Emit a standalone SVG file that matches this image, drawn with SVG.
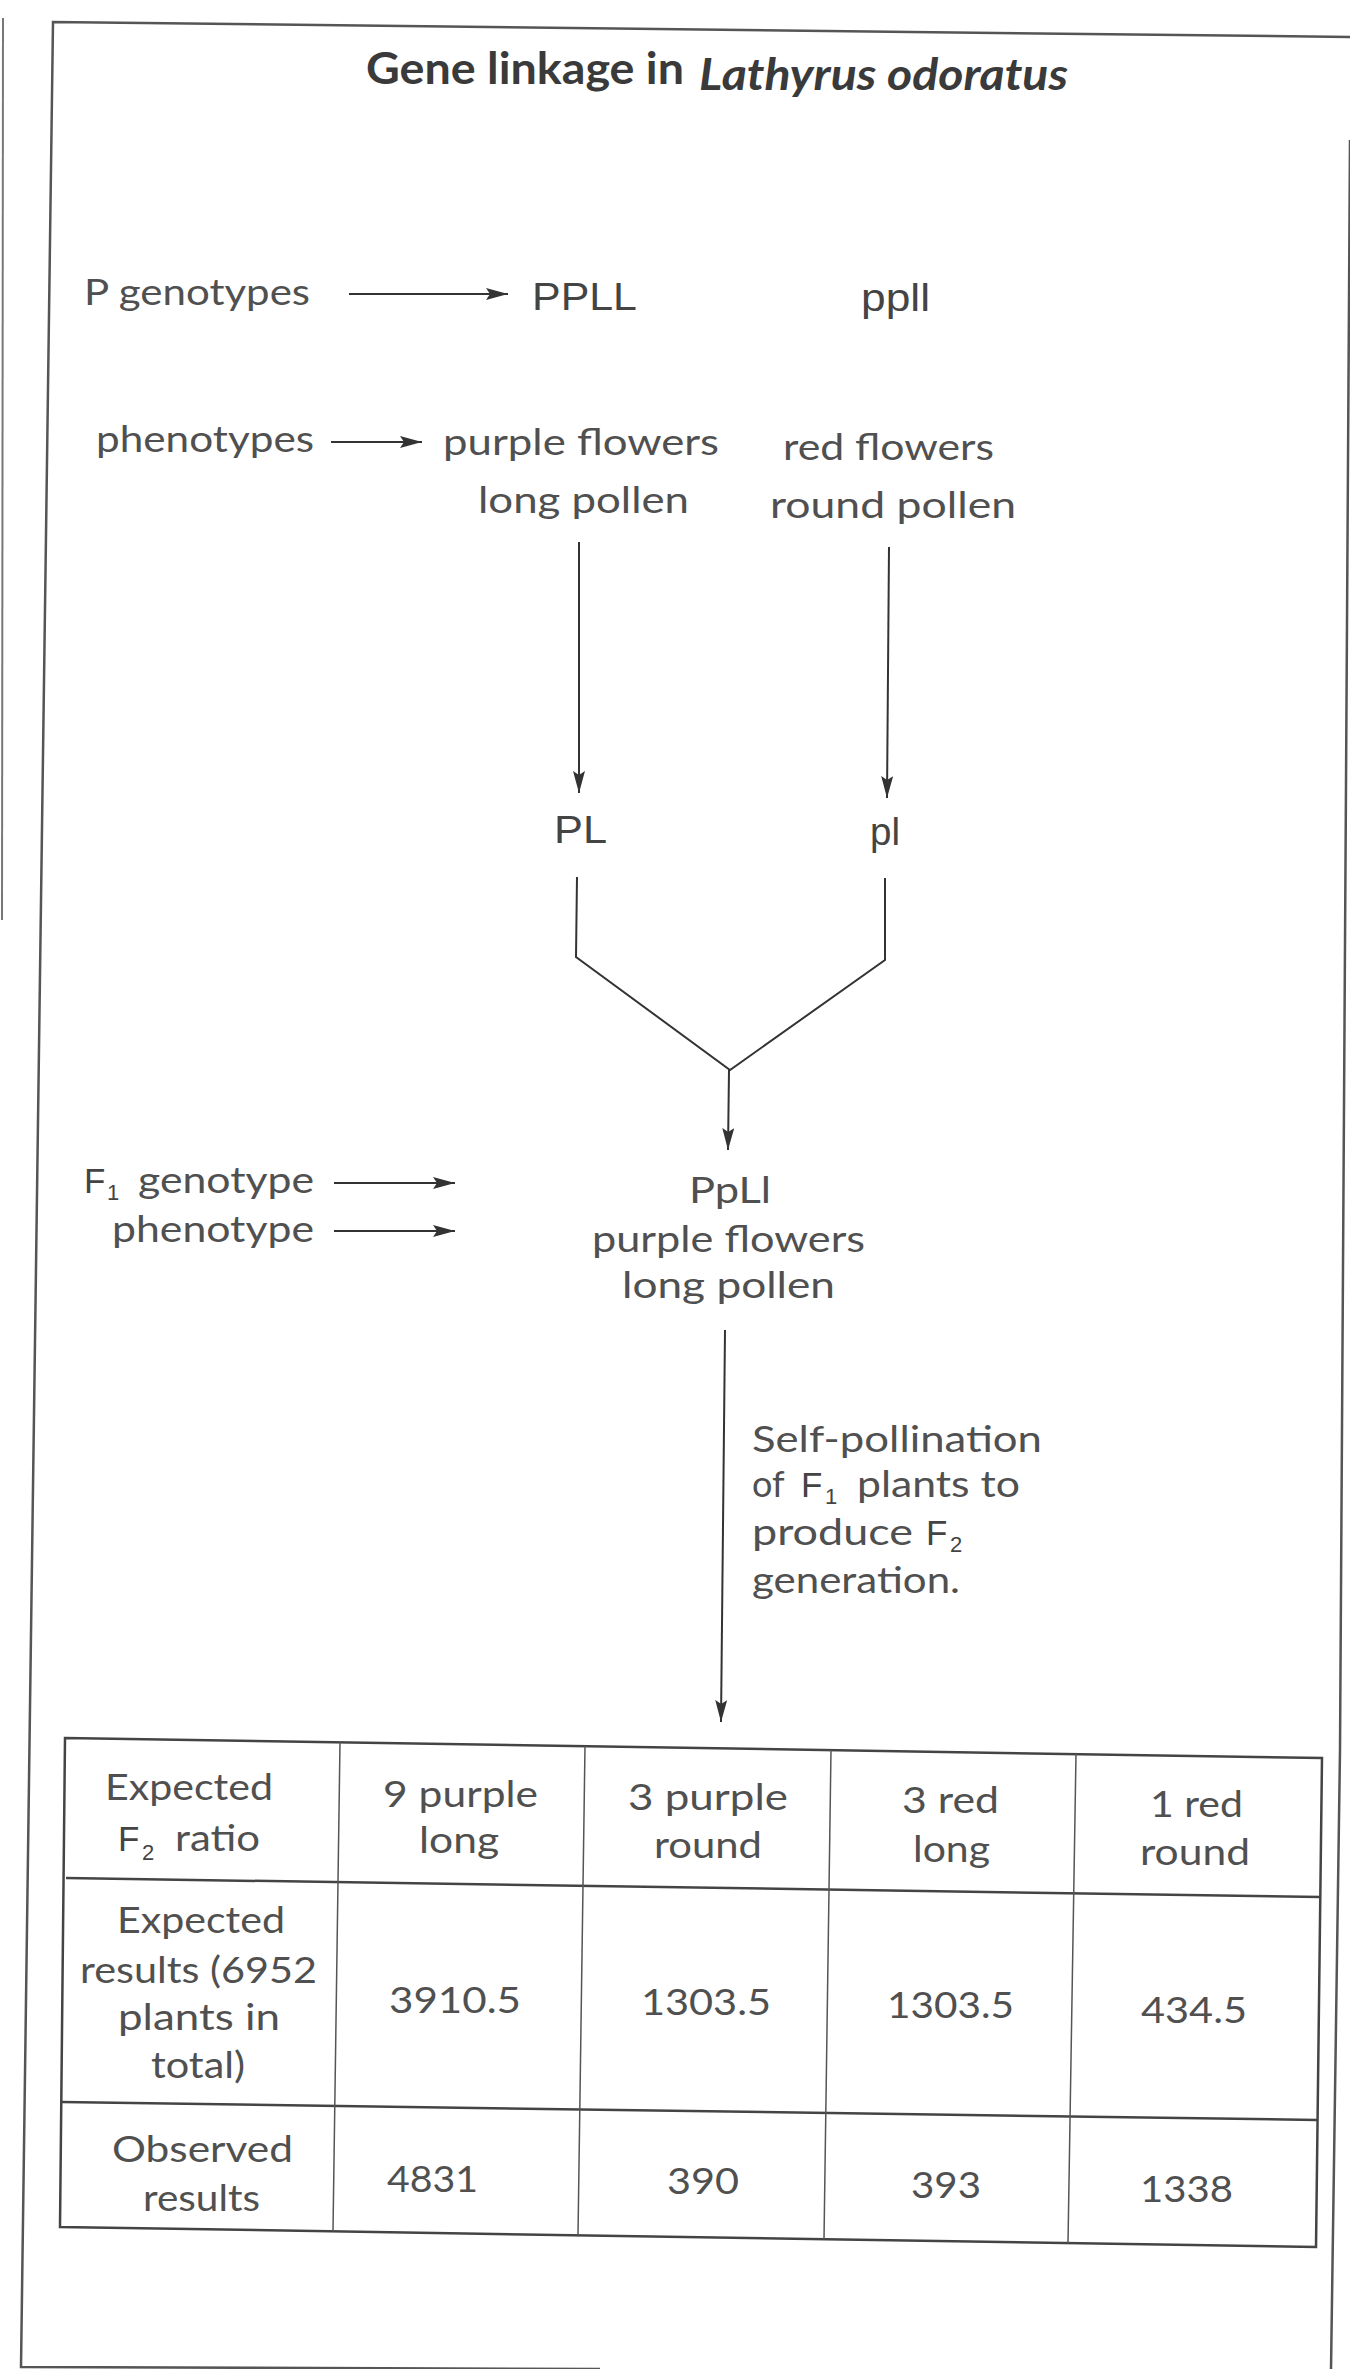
<svg xmlns="http://www.w3.org/2000/svg" width="1350" height="2369" viewBox="0 0 1350 2369">
  <defs>
    <marker id="ah" markerUnits="userSpaceOnUse" markerWidth="22" markerHeight="12" refX="22" refY="6" orient="auto">
      <path d="M0,0 L22,6 L0,12 L4,6 z" fill="#333"/>
    </marker>
    <style>
      .frame { fill: none; stroke: #555; stroke-width: 2.5; }
      .edge { fill: none; stroke: #777; stroke-width: 2; }
      .tbl { fill: none; stroke: #444; stroke-width: 2.5; }
      .col { fill: none; stroke: #555; stroke-width: 1.5; }
      .conn { fill: none; stroke: #333; stroke-width: 2; }
      .arr { marker-end: url(#ah); }
      .t { font-family: Lato, "Open Sans", "Liberation Sans", sans-serif; font-size: 36px; fill: #505050; }
      .g { font-family: "Liberation Sans", Arial, sans-serif; font-size: 38px; fill: #444; }
      .title { font-family: Lato, "Open Sans", "Liberation Sans", sans-serif; font-size: 44px; font-weight: bold; fill: #3a3a3a; }
      .sub { font-family: "Liberation Sans", Arial, sans-serif; font-size: 22px; fill: #444; }
      .F { font-family: "Liberation Sans", Arial, sans-serif; font-size: 35px; fill: #444; }
    </style>
  </defs>
  <rect width="1350" height="2369" fill="#fff"/>

  <!-- page frame -->
  <g id="frame">
    <path class="frame" d="M1350,37 L53,22 L21,2367 L600,2369"/>
    <path class="frame" d="M1350,140 L1340,1750 L1331,2369"/>
    <path class="edge" d="M3,18 L2,920"/>
  </g>

  <!-- heading -->
  <g id="title">
    <text class="title" x="366" y="84" textLength="318" lengthAdjust="spacingAndGlyphs">Gene linkage in</text>
    <text class="title" x="699" y="90" font-style="italic" textLength="369" lengthAdjust="spacingAndGlyphs">Lathyrus odoratus</text>
  </g>

  <!-- left-hand row labels -->
  <g id="label-p-genotypes">
    <text class="t" x="84" y="305" textLength="226" lengthAdjust="spacingAndGlyphs">P genotypes</text>
  </g>
  <g id="label-phenotypes">
    <text class="t" x="96" y="452" textLength="218" lengthAdjust="spacingAndGlyphs">phenotypes</text>
  </g>
  <g id="label-f1">
    <text x="84" y="1193"><tspan class="F">F</tspan><tspan class="sub" x="107" y="1200">1</tspan><tspan class="t" x="138" y="1193" textLength="176" lengthAdjust="spacingAndGlyphs">genotype</tspan></text>
    <text class="t" x="112" y="1242" textLength="202" lengthAdjust="spacingAndGlyphs">phenotype</text>
  </g>

  <!-- parents -->
  <g id="parent-purple">
    <text class="g" x="532" y="310" textLength="105" lengthAdjust="spacingAndGlyphs">PPLL</text>
    <text class="t" x="443" y="455" textLength="276" lengthAdjust="spacingAndGlyphs">purple flowers</text>
    <text class="t" x="478" y="513" textLength="211" lengthAdjust="spacingAndGlyphs">long pollen</text>
  </g>
  <g id="parent-red">
    <text class="g" x="861" y="311" textLength="69" lengthAdjust="spacingAndGlyphs">ppll</text>
    <text class="t" x="783" y="460" textLength="211" lengthAdjust="spacingAndGlyphs">red flowers</text>
    <text class="t" x="770" y="518" textLength="246" lengthAdjust="spacingAndGlyphs">round pollen</text>
  </g>

  <!-- gametes -->
  <g id="gamete-PL">
    <text class="g" x="554" y="843" textLength="53" lengthAdjust="spacingAndGlyphs">PL</text>
  </g>
  <g id="gamete-pl">
    <text class="g" x="870" y="845" textLength="30" lengthAdjust="spacingAndGlyphs">pl</text>
  </g>

  <!-- F1 offspring -->
  <g id="f1">
    <text class="t" x="689" y="1203" textLength="82" lengthAdjust="spacingAndGlyphs">PpLl</text>
    <text class="t" x="592" y="1252" textLength="273" lengthAdjust="spacingAndGlyphs">purple flowers</text>
    <text class="t" x="622" y="1298" textLength="213" lengthAdjust="spacingAndGlyphs">long pollen</text>
  </g>

  <!-- self-pollination note -->
  <g id="note">
    <text class="t" x="752" y="1452" textLength="290" lengthAdjust="spacingAndGlyphs">Self-pollination</text>
    <text x="752" y="1497"><tspan class="t">of</tspan><tspan class="F" x="801">F</tspan><tspan class="sub" x="825" y="1504">1</tspan><tspan class="t" x="857" y="1497" textLength="163" lengthAdjust="spacingAndGlyphs">plants to</tspan></text>
    <text x="752" y="1545"><tspan class="t" textLength="161" lengthAdjust="spacingAndGlyphs">produce</tspan><tspan class="F" x="926">F</tspan><tspan class="sub" x="950" y="1552">2</tspan></text>
    <text class="t" x="752" y="1593" textLength="208" lengthAdjust="spacingAndGlyphs">generation.</text>
  </g>

  <!-- connectors -->
  <g id="connectors">
    <line class="conn arr" x1="349" y1="294" x2="508" y2="294"/>
    <line class="conn arr" x1="331" y1="442" x2="422" y2="442"/>
    <line class="conn arr" x1="334" y1="1183" x2="455" y2="1183"/>
    <line class="conn arr" x1="334" y1="1231" x2="455" y2="1231"/>
    <line class="conn arr" x1="579" y1="542" x2="579" y2="793"/>
    <line class="conn arr" x1="889" y1="547" x2="887" y2="798"/>
    <path class="conn" d="M577,877 L576,957 L730,1070 L885,960 L885,878"/>
    <line class="conn arr" x1="729" y1="1070" x2="728" y2="1150"/>
    <line class="conn arr" x1="725" y1="1330" x2="721" y2="1722"/>
  </g>

  <!-- results table -->
  <g id="table">
    <path class="tbl" d="M65,1738 L1322,1758 L1316,2247 L60,2227 Z"/>
    <path class="tbl" d="M66,1878 L1321,1897"/>
    <path class="tbl" d="M62,2102 L1317,2120"/>
    <path class="col" d="M340,1742 L333,2231"/>
    <path class="col" d="M585,1746 L578,2235"/>
    <path class="col" d="M831,1750 L824,2239"/>
    <path class="col" d="M1076,1754 L1068,2243"/>
  </g>

  <g id="row-ratio">
    <text class="t" x="105" y="1800" textLength="168" lengthAdjust="spacingAndGlyphs">Expected</text>
    <text x="118" y="1851"><tspan class="F">F</tspan><tspan class="sub" x="142" y="1860">2</tspan><tspan class="t" x="175" y="1851" textLength="85" lengthAdjust="spacingAndGlyphs">ratio</tspan></text>
    <text class="t" x="383" y="1807" textLength="155" lengthAdjust="spacingAndGlyphs">9 purple</text>
    <text class="t" x="419" y="1853" textLength="80" lengthAdjust="spacingAndGlyphs">long</text>
    <text class="t" x="628" y="1810" textLength="160" lengthAdjust="spacingAndGlyphs">3 purple</text>
    <text class="t" x="654" y="1858" textLength="108" lengthAdjust="spacingAndGlyphs">round</text>
    <text class="t" x="902" y="1813" textLength="97" lengthAdjust="spacingAndGlyphs">3 red</text>
    <text class="t" x="913" y="1862" textLength="77" lengthAdjust="spacingAndGlyphs">long</text>
    <text class="t" x="1150" y="1817" textLength="93" lengthAdjust="spacingAndGlyphs">1 red</text>
    <text class="t" x="1140" y="1865" textLength="110" lengthAdjust="spacingAndGlyphs">round</text>
  </g>

  <g id="row-expected">
    <text class="t" x="117" y="1933" textLength="168" lengthAdjust="spacingAndGlyphs">Expected</text>
    <text class="t" x="80" y="1983" textLength="237" lengthAdjust="spacingAndGlyphs">results (6952</text>
    <text class="t" x="118" y="2030" textLength="162" lengthAdjust="spacingAndGlyphs">plants in</text>
    <text class="t" x="151" y="2078" textLength="94" lengthAdjust="spacingAndGlyphs">total)</text>
    <text class="t" x="389" y="2013" textLength="132" lengthAdjust="spacingAndGlyphs">3910.5</text>
    <text class="t" x="641" y="2015" textLength="130" lengthAdjust="spacingAndGlyphs">1303.5</text>
    <text class="t" x="887" y="2018" textLength="127" lengthAdjust="spacingAndGlyphs">1303.5</text>
    <text class="t" x="1141" y="2023" textLength="106" lengthAdjust="spacingAndGlyphs">434.5</text>
  </g>

  <g id="row-observed">
    <text class="t" x="112" y="2162" textLength="181" lengthAdjust="spacingAndGlyphs">Observed</text>
    <text class="t" x="143" y="2211" textLength="117" lengthAdjust="spacingAndGlyphs">results</text>
    <text class="t" x="387" y="2192" textLength="91" lengthAdjust="spacingAndGlyphs">4831</text>
    <text class="t" x="667" y="2194" textLength="72" lengthAdjust="spacingAndGlyphs">390</text>
    <text class="t" x="911" y="2198" textLength="70" lengthAdjust="spacingAndGlyphs">393</text>
    <text class="t" x="1140" y="2202" textLength="93" lengthAdjust="spacingAndGlyphs">1338</text>
  </g>
</svg>
